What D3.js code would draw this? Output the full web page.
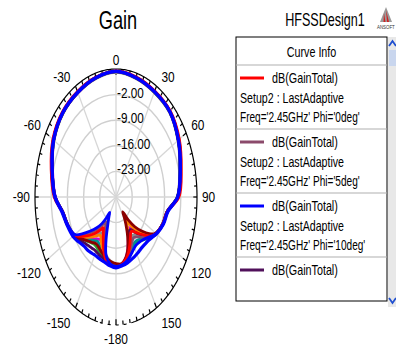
<!DOCTYPE html>
<html><head><meta charset="utf-8">
<script src="https://cdn.jsdelivr.net/npm/d3@7"></script>
<style>
body{margin:0;background:#fff;}
svg{display:block;font-family:"Liberation Sans",Arial,sans-serif;}
</style>
</head><body>
<svg id="chart" width="396" height="348"></svg>
<script>
// ---------- data ----------
const thetaDeg = [-180,-172,-165,-160,-155,-150,-147,-144,-140,-135,-130,-125,-120,-110,-100,
  -90,-75,-60,-45,-30,-15,0,15,30,45,60,75,90,
  100,110,120,125,130,135,140,144,147,150,155,160,165,172];

const gainPhi0  = [-10.8,-11.3,-12.5,-14.5,-17.0,-19.0,-20.0,-19.0,-17.5,-15.5,-13.5,-11.2,-9.2,-7.6,-6.4,
  -3.3,-1.0,1.5,2.8,3.3,3.9,4.5,4.0,3.5,3.2,1.6,-0.8,-2.8,
  -7.4,-8.4,-10.0,-11.5,-13.8,-15.8,-17.5,-18.5,-18.3,-17.5,-15.8,-14.0,-12.6,-11.4];
const gainPhi5  = [-11.0,-11.5,-13.0,-15.5,-18.5,-21.0,-22.0,-21.0,-19.0,-17.0,-14.5,-11.8,-9.4,-7.7,-6.5,
  -3.5,-1.2,1.3,2.7,3.2,3.8,4.4,3.9,3.4,3.1,1.4,-1.0,-3.1,
  -7.4,-8.4,-10.0,-11.2,-13.0,-14.5,-15.8,-16.4,-16.5,-16.0,-14.8,-13.4,-12.3,-11.3];
const gainPhi10 = [-10.6,-11.0,-11.5,-11.6,-11.7,-11.7,-11.5,-11.3,-11.0,-10.8,-10.2,-9.3,-8.5,-7.5,-6.3,
  -3.6,-1.4,1.2,2.6,3.1,3.8,4.4,3.8,3.3,3.0,1.2,-1.2,-3.3,
  -7.2,-8.2,-9.8,-10.8,-11.6,-12.0,-12.2,-12.2,-12.1,-12.0,-11.8,-11.6,-11.3,-11.0];
const gainPhi15 = [-11.6,-12.0,-12.2,-12.4,-12.6,-12.8,-12.8,-12.6,-12.3,-11.8,-11.0,-10.0,-9.0,-7.7,-6.5,
  -3.7,-1.5,1.1,2.5,3.0,3.7,4.3,3.7,3.2,2.9,1.1,-1.3,-3.4,
  -7.5,-8.5,-10.1,-11.5,-13.5,-15.5,-17.5,-19.0,-19.2,-18.5,-16.5,-14.4,-12.8,-11.5];
const gainPhi20 = [-11.2,-11.8,-12.8,-14.0,-15.5,-17.0,-17.5,-17.0,-16.0,-14.5,-12.8,-11.0,-9.0,-7.7,-6.5,
  -3.6,-1.4,1.2,2.6,3.1,3.8,4.3,3.8,3.3,3.0,1.3,-1.1,-3.2,
  -7.5,-8.5,-10.1,-11.8,-14.5,-17.0,-19.5,-22.0,-21.5,-20.0,-17.0,-14.5,-12.8,-11.6];
const gainPhi25 = [-11.3,-12.2,-13.4,-15.0,-17.0,-18.5,-18.2,-17.4,-16.5,-15.0,-13.2,-11.2,-9.1,-7.8,-6.6,
  -3.6,-1.4,1.1,2.5,3.0,3.7,4.3,3.7,3.2,2.9,1.2,-1.2,-3.3,
  -7.5,-8.5,-10.0,-11.3,-13.2,-15.0,-16.5,-17.2,-17.0,-16.4,-15.0,-13.6,-12.4,-11.4];
const gainPhi30 = [-11.4,-12.0,-12.6,-13.5,-14.5,-15.2,-15.5,-15.2,-14.5,-13.5,-12.2,-10.6,-9.0,-7.7,-6.5,
  -3.7,-1.5,1.1,2.5,3.0,3.7,4.3,3.7,3.2,2.9,1.1,-1.3,-3.4,
  -7.4,-8.4,-10.0,-11.0,-12.6,-13.8,-14.8,-15.2,-15.2,-14.8,-13.9,-12.9,-12.1,-11.3];
const gainPhi35 = [-11.5,-12.0,-12.4,-12.8,-13.3,-13.8,-14.0,-14.0,-13.6,-12.8,-11.8,-10.4,-9.0,-7.7,-6.5,
  -3.7,-1.5,1.0,2.4,3.0,3.6,4.2,3.6,3.1,2.8,1.0,-1.4,-3.5,
  -7.4,-8.4,-9.9,-10.9,-12.4,-13.4,-14.2,-14.6,-14.6,-14.3,-13.6,-12.8,-12.0,-11.2];
const gainPhi40 = [-11.3,-12.0,-13.2,-14.6,-16.0,-16.5,-16.3,-15.8,-15.0,-13.8,-12.5,-10.8,-9.0,-7.8,-6.6,
  -3.8,-1.6,1.0,2.4,2.9,3.6,4.2,3.6,3.1,2.8,1.0,-1.4,-3.5,
  -7.5,-8.5,-10.1,-11.6,-13.8,-16.0,-18.0,-19.5,-20.0,-19.5,-17.5,-15.0,-13.0,-11.6];
const gainPhi45 = [-11.8,-12.3,-12.8,-13.4,-14.0,-14.5,-14.6,-14.4,-13.8,-13.0,-11.9,-10.5,-9.0,-7.8,-6.6,
  -3.6,-1.3,1.3,2.6,3.1,3.8,4.4,3.8,3.3,3.0,1.3,-1.1,-3.1,
  -7.5,-8.5,-10.2,-12.5,-15.5,-18.5,-21.8,-25.0,-23.5,-21.5,-18.0,-15.0,-13.0,-11.6];
const gainPhi50 = [-11.6,-12.4,-13.5,-15.0,-16.8,-18.0,-18.8,-18.5,-17.5,-16.0,-14.0,-11.8,-9.3,-7.8,-6.7,
  -3.8,-1.6,0.9,2.3,2.9,3.5,4.1,3.5,3.0,2.7,0.9,-1.5,-3.6,
  -7.5,-8.5,-10.1,-11.7,-14.0,-16.5,-19.0,-21.0,-21.2,-20.5,-18.0,-15.2,-13.2,-11.7];
const gainPhi55 = [-11.2,-11.9,-13.0,-14.5,-16.3,-17.8,-18.0,-17.8,-17.0,-15.5,-13.6,-11.5,-9.2,-7.8,-6.6,
  -3.7,-1.5,1.1,2.5,3.0,3.7,4.3,3.7,3.2,2.9,1.1,-1.3,-3.4,
  -7.4,-8.4,-10.0,-11.2,-13.0,-14.8,-16.2,-17.0,-17.2,-16.8,-15.4,-13.8,-12.5,-11.4];
const gainPhi70 = [-11.0,-11.6,-13.5,-17.4,-21.6,-24.0,-25.0,-23.0,-20.5,-18.0,-15.5,-12.5,-9.5,-7.8,-6.6,
  -3.7,-1.5,1.1,2.5,3.0,3.7,4.3,3.7,3.2,2.9,1.1,-1.3,-3.4,
  -7.4,-8.4,-10.0,-11.4,-12.6,-13.5,-14.0,-14.2,-14.2,-14.0,-13.4,-12.6,-11.9,-11.3];

const curveNames  = ["Phi55","Phi50","Phi40","Phi35","Phi30","Phi25","Phi20","Phi15","Phi45","Phi5","Phi0","Phi70","Phi10"];
const curveValues = [gainPhi55,gainPhi50,gainPhi40,gainPhi35,gainPhi30,gainPhi25,gainPhi20,gainPhi15,gainPhi45,gainPhi5,gainPhi0,gainPhi70,gainPhi10];
const curveColors = ["#2a8fd0","#c4c4c4","#d400d4","#30a030","#009090","#8c8c8c","#ff8000","#4b0a5a","#8b0000","#8b4a6b","#ff0000","#0000ff","#0000ff"];

const radialTicks = [-23,-16,-9,-2];
const radialTickLabels = ["-23.00","-16.00","-9.00","-2.00"];
const radialDomain = [-30,5];
const angleTicks = [0,30,60,90,120,150,180,-150,-120,-90,-60,-30];
const angleTickLabels = ["0","30","60","90","120","150","-180","-150","-120","-90","-60","-30"];

const legendColors = ["#ff0000","#8b4a6b","#0000ff","#50105a"];
const legendLine1 = ["dB(GainTotal)","dB(GainTotal)","dB(GainTotal)","dB(GainTotal)"];
const legendLine2 = ["Setup2 : LastAdaptive","Setup2 : LastAdaptive","Setup2 : LastAdaptive","Setup2 : LastAdaptive"];
const legendLine3 = ["Freq='2.45GHz' Phi='0deg'","Freq='2.45GHz' Phi='5deg'","Freq='2.45GHz' Phi='10deg'","Freq='2.45GHz' Phi='15deg'"];

// ---------- drawing ----------
const svg = d3.select("#chart");
const cx = 116, cy = 197, rx = 81, ry = 128;
const rScale = d3.scaleLinear().domain(radialDomain).range([0,1]).clamp(true);
const rad = d => d*Math.PI/180;
const px = (deg, v) => cx + rx*rScale(v)*Math.sin(rad(deg));
const py = (deg, v) => cy - ry*rScale(v)*Math.cos(rad(deg));

function txt(g, x, y, s, size, sx, anchor, fill){
  return g.append("text").attr("transform",`translate(${x},${y}) scale(${sx},1)`)
    .attr("text-anchor",anchor||"start").attr("font-size",size).attr("fill",fill||"#000").text(s);
}

const grid = svg.append("g");
radialTicks.forEach(t=>{
  grid.append("ellipse").attr("cx",cx).attr("cy",cy)
    .attr("rx",rx*rScale(t)).attr("ry",ry*rScale(t))
    .attr("fill","none").attr("stroke","#cfcfcf").attr("stroke-width",1.4);
});
d3.range(0,360,30).forEach(a=>{
  grid.append("line").attr("x1",cx).attr("y1",cy)
    .attr("x2",px(a,radialDomain[1])).attr("y2",py(a,radialDomain[1]))
    .attr("stroke","#d6d6d6").attr("stroke-width",1.3);
});
const outerLine = d3.line().x(a=>px(a,radialDomain[1])).y(a=>py(a,radialDomain[1]));
grid.append("path").attr("d",outerLine(d3.range(-167,167.5,1)))
  .attr("fill","none").attr("stroke","#000").attr("stroke-width",1.2);
grid.append("path").attr("d",outerLine(d3.range(167,193.5,1)))
  .attr("fill","none").attr("stroke","#000").attr("stroke-width",1.2).attr("stroke-dasharray","3,5");
d3.range(-180,180,5).forEach(a=>{
  const inner = radialDomain[1] - (a%30===0?1.6:1.1);
  grid.append("line").attr("x1",px(a,radialDomain[1])).attr("y1",py(a,radialDomain[1]))
    .attr("x2",px(a,inner)).attr("y2",py(a,inner))
    .attr("stroke","#000").attr("stroke-width",1.2);
});

// curves
const line = d3.line()
  .x(d=>px(d[0],d[1])).y(d=>py(d[0],d[1]))
  .curve(d3.curveCatmullRomClosed.alpha(0.5));
const curves = svg.append("g");
curveValues.forEach((vals,i)=>{
  const pts = thetaDeg.map((t,j)=>[t,vals[j]]);
  curves.append("path").attr("d",line(pts))
    .attr("fill","none").attr("stroke",curveColors[i])
    .attr("stroke-width", curveNames[i]==="Phi10"?3.2:2.8)
    .attr("stroke-linejoin","round");
});

// radial labels
radialTicks.forEach((t,i)=>{
  txt(svg, cx+1, cy - ry*rScale(t) + 3, radialTickLabels[i], 14, 0.84, "start");
});
// angle labels
angleTicks.forEach((a,i)=>{
  const s = Math.sin(rad(a)), c = Math.cos(rad(a));
  const ex = px(a,radialDomain[1]), ey = py(a,radialDomain[1]);
  const d = c > 0 ? 3.5 : (Math.abs(s) < 0.1 ? 8 : 11);
  const yc = ey - c*d - Math.sign(c)*6*(Math.abs(c)>0.1?1:0);
  let anchor = "middle", x = ex;
  if (s > 0.1) { anchor = "start"; x = ex + 5; }
  else if (s < -0.1) { anchor = "end"; x = ex - 5; }
  txt(svg, x, yc + 5, angleTickLabels[i], 14, 0.85, anchor);
});

// titles
txt(svg, cx+2, 29, "Gain", 26, 0.7, "middle");
txt(svg, 325, 26, "HFSSDesign1", 18, 0.7, "middle");

// logo
const logo = svg.append("g");
logo.append("path").attr("d","M386,7 L392,22 L380,22 Z").attr("fill","#9a9a9a");
logo.append("path").attr("d","M386,10 L389,22 L387,22 Z").attr("fill","#d02020");
logo.append("path").attr("d","M384,13 L385.5,22 L383.5,22 Z").attr("fill","#d02020");
txt(logo, 377, 29, "ANSOFT", 5.5, 0.8, "start", "#333");

// legend
const L = {x:236, y:37, w:151, h:264};
const leg = svg.append("g");
leg.append("rect").attr("x",L.x).attr("y",L.y).attr("width",L.w).attr("height",L.h)
  .attr("fill","#fff").attr("stroke","#000").attr("stroke-width",1);
txt(leg, L.x+L.w/2, 57, "Curve Info", 14, 0.77, "middle");
leg.append("line").attr("x1",L.x).attr("x2",L.x+L.w).attr("y1",65).attr("y2",65)
  .attr("stroke","#b0b0b0").attr("stroke-width",1.2);
svg.append("clipPath").attr("id","legclip").append("rect")
  .attr("x",L.x).attr("y",65).attr("width",L.w).attr("height",216);
const entries = leg.append("g").attr("clip-path","url(#legclip)");
legendColors.forEach((col,i)=>{
  const top = 65 + i*64;
  entries.append("line").attr("x1",240).attr("x2",264).attr("y1",top+13).attr("y2",top+13)
    .attr("stroke",col).attr("stroke-width",3);
  txt(entries, 272, top+18, legendLine1[i], 14, 0.77, "start");
  txt(entries, 240, top+38, legendLine2[i], 14, 0.76, "start");
  txt(entries, 240, top+57, legendLine3[i], 14, 0.72, "start");
  if (i<3) entries.append("line").attr("x1",L.x).attr("x2",L.x+L.w).attr("y1",top+64).attr("y2",top+64)
    .attr("stroke","#b0b0b0").attr("stroke-width",1.2);
});
// scrollbar
const sb = svg.append("g");
sb.append("rect").attr("x",388).attr("y",37).attr("width",8).attr("height",270).attr("fill","#e8e8e8");
sb.append("rect").attr("x",389).attr("y",50).attr("width",7).attr("height",16).attr("fill","#c9d6ee");
sb.append("path").attr("d","M389,46 L392.5,41 L396,46").attr("fill","none").attr("stroke","#1f4fd0").attr("stroke-width",1.8);
sb.append("path").attr("d","M389,298 L392.5,303 L396,298").attr("fill","none").attr("stroke","#1f4fd0").attr("stroke-width",1.8);
</script>
</body></html>
